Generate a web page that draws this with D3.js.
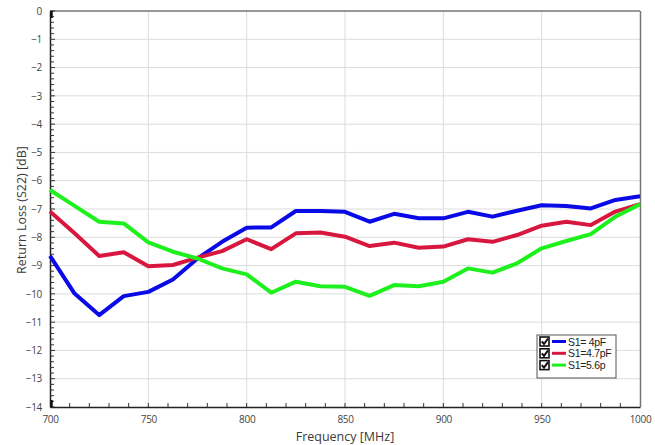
<!DOCTYPE html>
<html><head><meta charset="utf-8">
<script src="https://cdn.jsdelivr.net/npm/d3@7"></script>
<style>
body{margin:0;background:#fff;}
svg{display:block;}
text{font-family:"Open Sans","Liberation Sans",sans-serif;}
</style></head>
<body>
<svg id="chart" width="655" height="445"></svg>
<script>
const freqs = [700,712.5,725,737.5,750,762.5,775,787.5,800,812.5,825,837.5,850,862.5,875,887.5,900,912.5,925,937.5,950,962.5,975,987.5,1000];
const s4pF  = [-8.66,-9.99,-10.75,-10.08,-9.93,-9.49,-8.75,-8.16,-7.66,-7.65,-7.07,-7.07,-7.10,-7.45,-7.17,-7.33,-7.33,-7.10,-7.27,-7.06,-6.87,-6.89,-6.98,-6.68,-6.55];
const s47pF = [-7.09,-7.86,-8.66,-8.53,-9.02,-8.98,-8.72,-8.49,-8.07,-8.42,-7.86,-7.83,-7.98,-8.31,-8.19,-8.37,-8.33,-8.07,-8.16,-7.92,-7.59,-7.45,-7.57,-7.09,-6.83];
const s56p  = [-6.33,-6.89,-7.45,-7.51,-8.18,-8.51,-8.75,-9.10,-9.31,-9.96,-9.57,-9.73,-9.75,-10.07,-9.69,-9.73,-9.57,-9.10,-9.25,-8.92,-8.39,-8.13,-7.89,-7.27,-6.83];
const seriesNames = ["S1= 4pF","S1=4.7pF","S1=5.6p"];
const seriesColors = ["#0a0ae6","#d8173f","#1ef01e"];
const xTicks = [700,750,800,850,900,950,1000];
const yTicks = [0,-1,-2,-3,-4,-5,-6,-7,-8,-9,-10,-11,-12,-13,-14];

const svg = d3.select("#chart");
const L=50, R=640, T=11, B=407;
const x = d3.scaleLinear().domain([700,1000]).range([L,R]);
const y = d3.scaleLinear().domain([0,-14]).range([T,B]);

// grid
svg.append("g").selectAll("line").data(xTicks.slice(1,-1)).join("line")
  .attr("x1",d=>x(d)).attr("x2",d=>x(d)).attr("y1",T).attr("y2",B)
  .attr("stroke","#dcdcdc").attr("stroke-width",1);
svg.append("g").selectAll("line").data(yTicks.slice(1,-1)).join("line")
  .attr("x1",L).attr("x2",R).attr("y1",d=>y(d)).attr("y2",d=>y(d))
  .attr("stroke","#dcdcdc").attr("stroke-width",1);

// border top/right
svg.append("line").attr("x1",L).attr("x2",R).attr("y1",T).attr("y2",T).attr("stroke","#333").attr("stroke-width",1.2);
svg.append("line").attr("x1",R+0.5).attr("x2",R+0.5).attr("y1",T).attr("y2",B).attr("stroke","#777").attr("stroke-width",1.5);

// axes
const xAxis = d3.axisBottom(x).tickValues(xTicks).tickSize(0).tickPadding(9).tickFormat(d3.format("d"));
const gx = svg.append("g").attr("transform",`translate(0,${B})`).call(xAxis);
gx.select(".domain").attr("stroke","#222").attr("stroke-width",1.5);
gx.selectAll("text").attr("font-size",10).attr("fill","#444").attr("letter-spacing",-0.3);
const xMinor = d3.range(710,1000,10);
svg.append("g").selectAll("line").data(xMinor).join("line")
  .attr("x1",d=>x(d)).attr("x2",d=>x(d)).attr("y1",B).attr("y2",B-4).attr("stroke","#333");

const yAxis = d3.axisLeft(y).tickValues(yTicks).tickSize(0).tickPadding(8).tickFormat(d3.format("d"));
const gy = svg.append("g").attr("transform",`translate(${L},0)`).call(yAxis);
gy.select(".domain").attr("stroke","#222").attr("stroke-width",1.5);
gy.selectAll("text").attr("font-size",10).attr("fill","#444").attr("letter-spacing",-0.3);
const yMinor = d3.range(0,-14.001,-0.2);
svg.append("g").selectAll("line").data(yMinor).join("line")
  .attr("x1",L).attr("x2",d=>Math.abs(d-Math.round(d))<1e-6?L+5:L+4).attr("y1",d=>y(d)).attr("y2",d=>y(d)).attr("stroke","#333");
svg.append("line").attr("x1",L+1.5).attr("x2",L+1.5).attr("y1",T).attr("y2",T+7).attr("stroke","#111").attr("stroke-width",2.5);
svg.append("line").attr("x1",L+1.5).attr("x2",L+1.5).attr("y1",B-7).attr("y2",B).attr("stroke","#111").attr("stroke-width",2.5);

// lines
const line = d3.line().x((d,i)=>x(freqs[i])).y(d=>y(d));
[s4pF,s47pF,s56p].forEach((s,i)=>{
  svg.append("path").datum(s).attr("d",line).attr("fill","none")
    .attr("stroke",seriesColors[i]).attr("stroke-width",4).attr("stroke-linejoin","round");
});

// axis titles
svg.append("text").attr("x",345).attr("y",441).attr("text-anchor","middle").attr("font-size",12.5).attr("fill","#3a3a3a").text("Frequency [MHz]");
svg.append("text").attr("transform","translate(26,210) rotate(-90)").attr("text-anchor","middle").attr("font-size",12.5).attr("fill","#3a3a3a").text("Return Loss (S22) [dB]");

// legend
const lg = svg.append("g").attr("transform","translate(537,335)");
lg.append("rect").attr("x",0).attr("y",0).attr("width",79).attr("height",43).attr("fill","#fff").attr("stroke","#555").attr("stroke-width",1);
seriesNames.forEach((n,i)=>{
  const cy = 6.5 + i*11.8;
  const cb = lg.append("g").attr("transform",`translate(3,${cy-4.5})`);
  cb.append("rect").attr("width",9).attr("height",9).attr("fill","#fff").attr("stroke","#111").attr("stroke-width",1.6);
  cb.append("path").attr("d","M1.8,4.5 L4,7 L8,1.5").attr("fill","none").attr("stroke","#111").attr("stroke-width",2);
  lg.append("line").attr("x1",15).attr("x2",29).attr("y1",cy).attr("y2",cy).attr("stroke",seriesColors[i]).attr("stroke-width",3);
  lg.append("text").attr("x",31).attr("y",cy+4).attr("font-size",10.5).attr("letter-spacing",-0.3).attr("fill","#222")
    .style("font-family","'Liberation Sans',Arial,sans-serif").text(n);
});
</script>
</body></html>
